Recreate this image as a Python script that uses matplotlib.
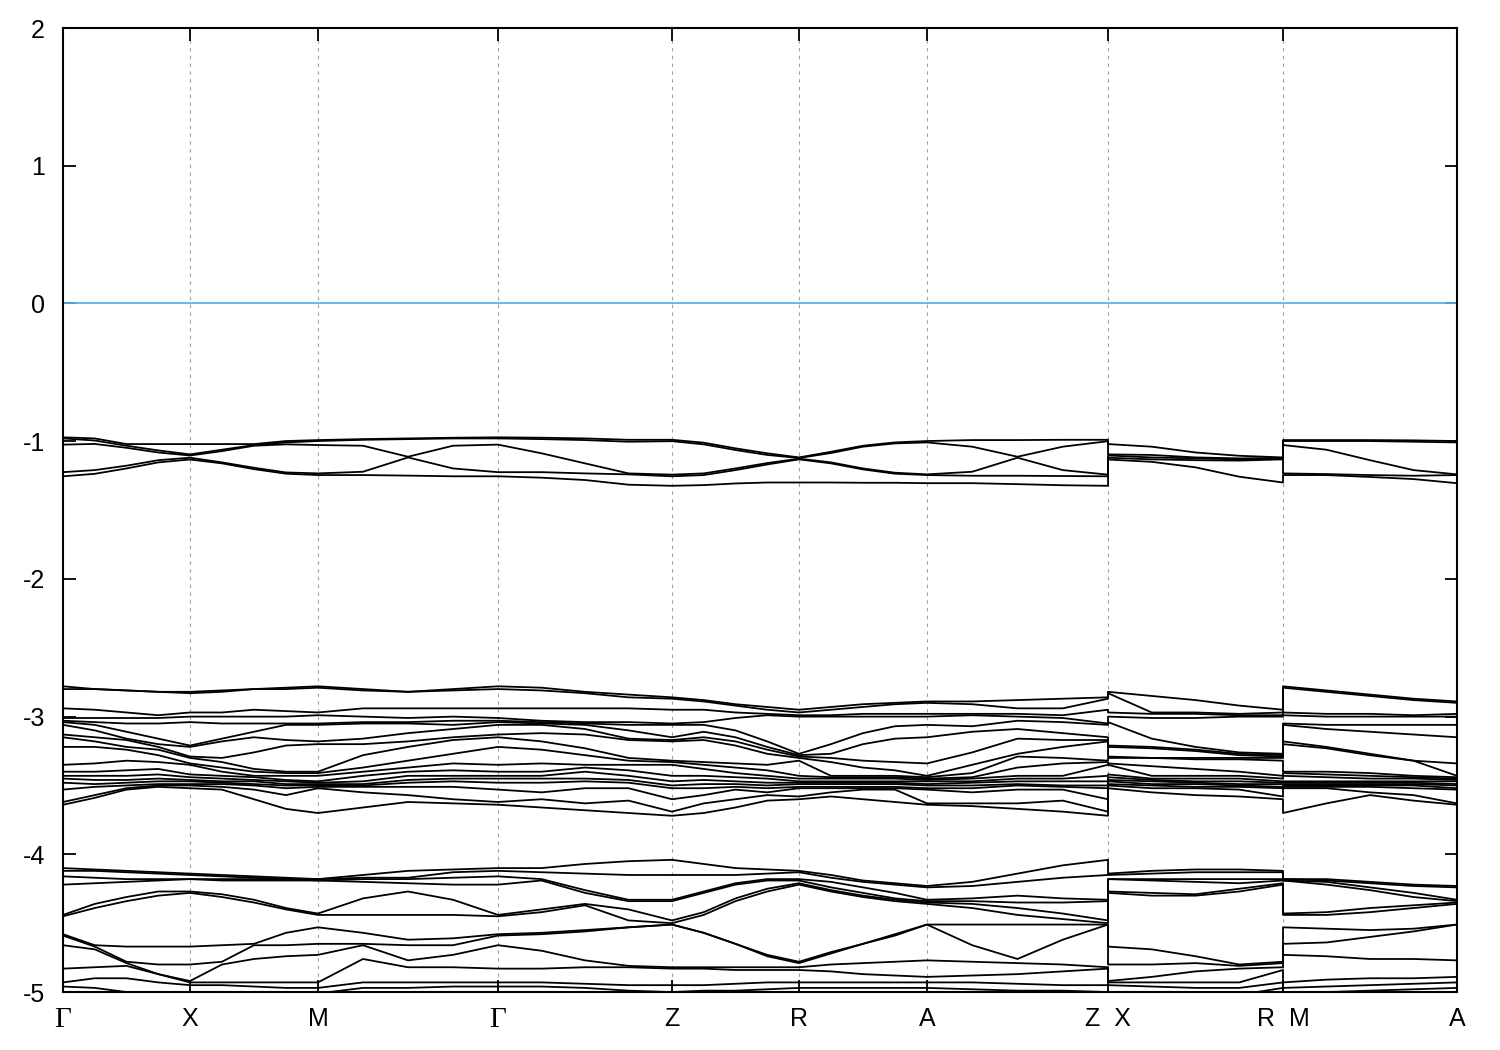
import numpy as np
import matplotlib.pyplot as plt

plt.rcParams['font.family'] = ['Liberation Sans', 'DejaVu Sans']

# k-path: high-symmetry labels and segment lengths (2pi/a units)
tick_labels = ["Γ", "X", "M", "Γ", "Z", "R", "A", "Z  X", "R  M", "A"]
seg_len = [0.5, 0.504, 0.709, 0.685, 0.5, 0.504, 0.713, 0.689, 0.685]

# band energies (eV) at the high-symmetry points, top / middle / lower group
G = ([-0.972, -0.980, -1.025, -1.225, -1.255]
     + [-2.78, -2.80, -2.94, -3.01, -3.03, -3.04, -3.06, -3.13, -3.15, -3.22, -3.35, -3.40, -3.43, -3.45, -3.48, -3.53, -3.62, -3.64]
     + [-4.10, -4.12, -4.16, -4.22, -4.44, -4.45, -4.58, -4.59, -4.66, -4.83, -4.93, -4.96, -5.05])
X = ([-1.021, -1.096, -1.104, -1.120, -1.133]
     + [-2.82, -2.83, -2.97, -3.00, -3.04, -3.21, -3.22, -3.29, -3.30, -3.34, -3.35, -3.42, -3.44, -3.46, -3.47, -3.49, -3.50, -3.52]
     + [-4.14, -4.15, -4.18, -4.18, -4.27, -4.28, -4.67, -4.80, -4.92, -4.93, -4.95, -5.05, -5.10])
M = ([-0.992, -0.999, -1.028, -1.234, -1.246]
     + [-2.78, -2.79, -2.97, -2.99, -3.05, -3.06, -3.18, -3.20, -3.40, -3.41, -3.43, -3.47, -3.48, -3.49, -3.50, -3.51, -3.52, -3.70]
     + [-4.18, -4.18, -4.19, -4.19, -4.43, -4.44, -4.53, -4.65, -4.73, -4.93, -4.97, -5.01, -5.07])
Z = ([-0.990, -1.000, -1.243, -1.255, -1.324]
     + [-2.86, -2.87, -2.95, -3.05, -3.06, -3.15, -3.17, -3.18, -3.32, -3.33, -3.35, -3.43, -3.47, -3.50, -3.52, -3.60, -3.69, -3.72]
     + [-4.04, -4.15, -4.33, -4.34, -4.48, -4.50, -4.51, -4.51, -4.82, -4.83, -4.95, -5.00, -5.07])
R = ([-1.118, -1.122, -1.127, -1.132, -1.300]
     + [-2.95, -2.97, -2.99, -3.00, -3.27, -3.28, -3.29, -3.30, -3.32, -3.43, -3.45, -3.47, -3.48, -3.49, -3.51, -3.52, -3.58, -3.60]
     + [-4.12, -4.13, -4.18, -4.19, -4.21, -4.22, -4.78, -4.79, -4.82, -4.84, -4.93, -4.97, -5.07])
A = ([-0.999, -1.009, -1.241, -1.246, -1.305]
     + [-2.89, -2.90, -2.98, -3.00, -3.06, -3.15, -3.34, -3.43, -3.44, -3.45, -3.46, -3.47, -3.49, -3.50, -3.52, -3.53, -3.63, -3.64]
     + [-4.23, -4.24, -4.33, -4.34, -4.35, -4.36, -4.51, -4.51, -4.77, -4.89, -4.93, -4.97, -5.07])

# energies at 1/4, 1/2, 3/4 of each segment
GX = [
    [-0.980, -0.995, -1.020, -1.210, -1.237]
    + [-2.80, -2.80, -2.95, -3.01, -3.04, -3.06, -3.10, -3.15, -3.18, -3.22, -3.34, -3.40, -3.43, -3.46, -3.49, -3.51, -3.57, -3.59]
    + [-4.11, -4.12, -4.17, -4.21, -4.36, -4.39, -4.66, -4.67, -4.69, -4.82, -4.90, -4.97, -5.05],
    [-1.021, -1.033, -1.048, -1.178, -1.198]
    + [-2.81, -2.81, -2.97, -3.01, -3.05, -3.11, -3.16, -3.17, -3.22, -3.24, -3.32, -3.39, -3.43, -3.46, -3.48, -3.50, -3.52, -3.53]
    + [-4.12, -4.13, -4.18, -4.20, -4.31, -4.34, -4.67, -4.78, -4.79, -4.81, -4.90, -5.00, -5.07],
    [-1.021, -1.067, -1.082, -1.138, -1.154]
    + [-2.82, -2.82, -2.99, -3.01, -3.05, -3.16, -3.20, -3.22, -3.24, -3.28, -3.33, -3.38, -3.42, -3.45, -3.47, -3.49, -3.50, -3.51]
    + [-4.13, -4.14, -4.18, -4.19, -4.27, -4.30, -4.67, -4.80, -4.87, -4.87, -4.93, -5.02, -5.08],
]
XM = [
    [-1.021, -1.062, -1.072, -1.154, -1.161]
    + [-2.81, -2.82, -2.97, -3.00, -3.05, -3.16, -3.18, -3.30, -3.33, -3.37, -3.40, -3.43, -3.45, -3.47, -3.48, -3.49, -3.51, -3.53]
    + [-4.15, -4.16, -4.18, -4.19, -4.29, -4.31, -4.66, -4.78, -4.80, -4.93, -4.95, -5.05, -5.10],
    [-1.021, -1.028, -1.033, -1.193, -1.203]
    + [-2.80, -2.80, -2.95, -3.00, -3.05, -3.11, -3.15, -3.26, -3.38, -3.40, -3.43, -3.44, -3.46, -3.47, -3.49, -3.50, -3.53, -3.60]
    + [-4.16, -4.17, -4.18, -4.19, -4.33, -4.35, -4.65, -4.66, -4.76, -4.93, -4.96, -5.04, -5.09],
    [-0.999, -1.009, -1.023, -1.227, -1.236]
    + [-2.79, -2.80, -2.96, -3.00, -3.05, -3.06, -3.17, -3.21, -3.40, -3.41, -3.43, -3.46, -3.47, -3.49, -3.50, -3.52, -3.57, -3.67]
    + [-4.17, -4.18, -4.18, -4.19, -4.39, -4.40, -4.57, -4.66, -4.74, -4.93, -4.97, -5.02, -5.08],
]
MG = [
    [-0.985, -0.990, -1.033, -1.222, -1.246]
    + [-2.80, -2.81, -2.94, -3.00, -3.04, -3.05, -3.16, -3.20, -3.28, -3.37, -3.40, -3.43, -3.47, -3.49, -3.50, -3.51, -3.55, -3.66]
    + [-4.15, -4.17, -4.18, -4.20, -4.32, -4.44, -4.57, -4.65, -4.66, -4.76, -4.93, -4.97, -5.05],
    [-0.980, -0.985, -1.113, -1.118, -1.250]
    + [-2.82, -2.82, -2.94, -3.01, -3.04, -3.05, -3.12, -3.18, -3.22, -3.32, -3.37, -3.40, -3.43, -3.46, -3.48, -3.51, -3.57, -3.62]
    + [-4.12, -4.17, -4.18, -4.21, -4.27, -4.44, -4.62, -4.66, -4.77, -4.82, -4.93, -4.97, -5.05],
    [-0.975, -0.980, -1.033, -1.198, -1.255]
    + [-2.80, -2.81, -2.94, -3.00, -3.03, -3.06, -3.09, -3.15, -3.17, -3.27, -3.34, -3.39, -3.43, -3.45, -3.47, -3.51, -3.60, -3.63]
    + [-4.11, -4.13, -4.17, -4.22, -4.33, -4.44, -4.61, -4.66, -4.73, -4.82, -4.93, -4.96, -5.05],
]
GZ = [
    [-0.975, -0.985, -1.088, -1.225, -1.265]
    + [-2.79, -2.81, -2.94, -3.03, -3.04, -3.05, -3.06, -3.12, -3.18, -3.24, -3.34, -3.40, -3.43, -3.45, -3.48, -3.55, -3.60, -3.66]
    + [-4.10, -4.13, -4.18, -4.19, -4.40, -4.42, -4.57, -4.58, -4.70, -4.83, -4.93, -4.96, -5.05],
    [-0.980, -0.992, -1.161, -1.234, -1.282]
    + [-2.82, -2.83, -2.94, -3.04, -3.05, -3.06, -3.09, -3.13, -3.23, -3.28, -3.35, -3.37, -3.40, -3.45, -3.47, -3.52, -3.63, -3.68]
    + [-4.07, -4.14, -4.26, -4.28, -4.36, -4.37, -4.55, -4.56, -4.77, -4.82, -4.94, -4.97, -5.06],
    [-0.990, -1.004, -1.234, -1.241, -1.316]
    + [-2.84, -2.86, -2.94, -3.04, -3.06, -3.10, -3.16, -3.17, -3.30, -3.32, -3.35, -3.39, -3.43, -3.46, -3.48, -3.52, -3.61, -3.70]
    + [-4.05, -4.15, -4.33, -4.34, -4.40, -4.48, -4.53, -4.53, -4.81, -4.82, -4.95, -4.99, -5.06],
]
ZR = [
    [-1.011, -1.023, -1.234, -1.246, -1.319]
    + [-2.88, -2.89, -2.95, -3.04, -3.06, -3.11, -3.15, -3.17, -3.33, -3.35, -3.38, -3.43, -3.46, -3.49, -3.52, -3.57, -3.63, -3.70]
    + [-4.07, -4.15, -4.27, -4.28, -4.42, -4.44, -4.57, -4.57, -4.82, -4.83, -4.95, -4.99, -5.07],
    [-1.052, -1.064, -1.198, -1.210, -1.307]
    + [-2.91, -2.92, -2.97, -3.01, -3.10, -3.15, -3.18, -3.21, -3.34, -3.37, -3.41, -3.44, -3.47, -3.49, -3.51, -3.53, -3.60, -3.66]
    + [-4.10, -4.15, -4.21, -4.22, -4.32, -4.34, -4.65, -4.65, -4.82, -4.84, -4.94, -4.99, -5.07],
    [-1.088, -1.100, -1.159, -1.169, -1.300]
    + [-2.93, -2.95, -2.98, -2.99, -3.18, -3.22, -3.24, -3.27, -3.35, -3.39, -3.43, -3.45, -3.48, -3.50, -3.52, -3.55, -3.57, -3.61]
    + [-4.11, -4.14, -4.18, -4.19, -4.25, -4.27, -4.73, -4.74, -4.82, -4.84, -4.93, -4.98, -5.07],
]
RA = [
    [-1.077, -1.086, -1.154, -1.161, -1.300]
    + [-2.93, -2.95, -2.99, -3.00, -3.20, -3.27, -3.30, -3.33, -3.43, -3.44, -3.45, -3.47, -3.48, -3.49, -3.51, -3.52, -3.55, -3.58]
    + [-4.15, -4.17, -4.20, -4.24, -4.26, -4.27, -4.71, -4.72, -4.80, -4.85, -4.93, -4.97, -5.07],
    [-1.033, -1.040, -1.198, -1.205, -1.302]
    + [-2.91, -2.93, -2.98, -3.00, -3.12, -3.20, -3.32, -3.37, -3.43, -3.44, -3.45, -3.47, -3.48, -3.49, -3.51, -3.52, -3.53, -3.60]
    + [-4.19, -4.20, -4.24, -4.28, -4.30, -4.31, -4.65, -4.65, -4.79, -4.87, -4.93, -4.97, -5.07],
    [-1.009, -1.016, -1.229, -1.236, -1.302]
    + [-2.90, -2.91, -2.98, -3.00, -3.07, -3.16, -3.33, -3.39, -3.43, -3.44, -3.45, -3.47, -3.48, -3.49, -3.51, -3.52, -3.53, -3.62]
    + [-4.21, -4.22, -4.28, -4.32, -4.33, -4.34, -4.58, -4.59, -4.78, -4.88, -4.93, -4.97, -5.07],
]
AZ = [
    [-0.992, -1.040, -1.222, -1.251, -1.305]
    + [-2.89, -2.91, -2.98, -2.99, -3.07, -3.11, -3.26, -3.35, -3.41, -3.44, -3.45, -3.47, -3.48, -3.50, -3.52, -3.55, -3.63, -3.65]
    + [-4.20, -4.23, -4.32, -4.34, -4.36, -4.39, -4.51, -4.66, -4.78, -4.88, -4.93, -4.98, -5.07],
    [-0.992, -1.113, -1.120, -1.251, -1.312]
    + [-2.88, -2.94, -2.98, -3.00, -3.03, -3.09, -3.16, -3.27, -3.29, -3.37, -3.43, -3.45, -3.47, -3.49, -3.50, -3.53, -3.63, -3.67]
    + [-4.14, -4.20, -4.30, -4.35, -4.39, -4.44, -4.51, -4.76, -4.79, -4.87, -4.94, -4.99, -5.07],
    [-0.990, -1.040, -1.210, -1.253, -1.320]
    + [-2.87, -2.94, -2.99, -3.01, -3.04, -3.12, -3.17, -3.22, -3.30, -3.34, -3.43, -3.45, -3.47, -3.50, -3.51, -3.53, -3.61, -3.69]
    + [-4.08, -4.17, -4.32, -4.35, -4.43, -4.47, -4.51, -4.62, -4.80, -4.85, -4.95, -4.99, -5.07],
]
XR = [
    [-1.040, -1.100, -1.118, -1.132, -1.150]
    + [-2.85, -2.97, -2.98, -3.01, -3.16, -3.22, -3.23, -3.30, -3.30, -3.36, -3.43, -3.45, -3.46, -3.47, -3.49, -3.50, -3.52, -3.55]
    + [-4.12, -4.14, -4.18, -4.19, -4.28, -4.30, -4.69, -4.80, -4.89, -4.93, -4.96, -5.04, -5.09],
    [-1.082, -1.118, -1.125, -1.138, -1.190]
    + [-2.88, -2.97, -2.98, -3.01, -3.22, -3.24, -3.25, -3.30, -3.31, -3.38, -3.43, -3.45, -3.47, -3.48, -3.49, -3.51, -3.52, -3.57]
    + [-4.11, -4.13, -4.18, -4.20, -4.29, -4.30, -4.74, -4.79, -4.85, -4.93, -4.97, -5.02, -5.08],
    [-1.106, -1.125, -1.132, -1.141, -1.258]
    + [-2.92, -2.98, -2.99, -3.00, -3.26, -3.27, -3.28, -3.30, -3.31, -3.40, -3.43, -3.45, -3.47, -3.49, -3.50, -3.51, -3.53, -3.58]
    + [-4.11, -4.13, -4.18, -4.21, -4.25, -4.27, -4.80, -4.81, -4.83, -4.93, -4.97, -5.02, -5.08],
]
MA = [
    [-0.992, -0.999, -1.062, -1.239, -1.246]
    + [-2.81, -2.82, -2.98, -3.00, -3.06, -3.09, -3.22, -3.23, -3.40, -3.42, -3.44, -3.47, -3.48, -3.49, -3.50, -3.51, -3.52, -3.63]
    + [-4.18, -4.19, -4.20, -4.22, -4.42, -4.44, -4.54, -4.64, -4.74, -4.91, -4.96, -5.00, -5.07],
    [-0.992, -0.999, -1.138, -1.246, -1.260]
    + [-2.84, -2.85, -2.98, -3.00, -3.06, -3.11, -3.27, -3.28, -3.41, -3.43, -3.45, -3.47, -3.48, -3.49, -3.50, -3.51, -3.55, -3.57]
    + [-4.20, -4.21, -4.24, -4.26, -4.39, -4.42, -4.55, -4.60, -4.76, -4.90, -4.95, -4.99, -5.07],
    [-0.994, -1.004, -1.210, -1.251, -1.275]
    + [-2.87, -2.88, -2.99, -3.00, -3.06, -3.13, -3.32, -3.32, -3.43, -3.44, -3.45, -3.47, -3.48, -3.49, -3.50, -3.52, -3.57, -3.61]
    + [-4.22, -4.23, -4.28, -4.31, -4.37, -4.39, -4.54, -4.56, -4.76, -4.90, -4.94, -4.98, -5.07],
]

segments = [(G, GX, X), (X, XM, M), (M, MG, G), (G, GZ, Z), (Z, ZR, R),
            (R, RA, A), (A, AZ, Z), (X, XR, R), (M, MA, A)]

# assemble the path; Z|X and R|M share one position, so the jump is drawn vertically
kx = []
bands = []
start = 0.0
tick_pos = [0.0]
for length, (e0, mid, e1) in zip(seg_len, segments):
    frac = np.linspace(0, 1, len(mid) + 2)
    kx.extend(start + length * frac)
    bands.extend([e0] + mid + [e1])
    start += length
    tick_pos.append(start)
kx = np.array(kx)
bands = np.array(bands)

fig = plt.figure(figsize=(15, 10.5), dpi=100)
ax = fig.add_axes([0.042, 0.0552, 0.9293, 0.9181])

for k in tick_pos[1:-1]:
    ax.axvline(k, color='#a0a0a0', lw=0.8, ls=(0, (3, 4)), zorder=1)
ax.axhline(0, color='#56b4e9', lw=1.3, zorder=2)

for b in range(bands.shape[1]):
    ax.plot(kx, bands[:, b], color='black', lw=1.3, zorder=3)

ax.set_xlim(0, tick_pos[-1])
ax.set_ylim(-5, 2)
ax.set_yticks(range(-5, 3))
ax.set_yticklabels([str(v) for v in range(-5, 3)])
ax.set_xticks(tick_pos)
ax.set_xticklabels(tick_labels)
ax.tick_params(direction='in', length=9, width=1.3, top=True, right=True,
               labelsize=18, colors='black')
ax.tick_params(axis='y', pad=13)
ax.tick_params(axis='x', pad=11)
for lbl in ax.get_xticklabels():
    if lbl.get_text() == "Γ":
        lbl.set_family(['Liberation Serif', 'DejaVu Serif'])
        lbl.set_fontsize(21)
for sp in ax.spines.values():
    sp.set_linewidth(1.5)

fig.savefig('out.png', dpi=100)
